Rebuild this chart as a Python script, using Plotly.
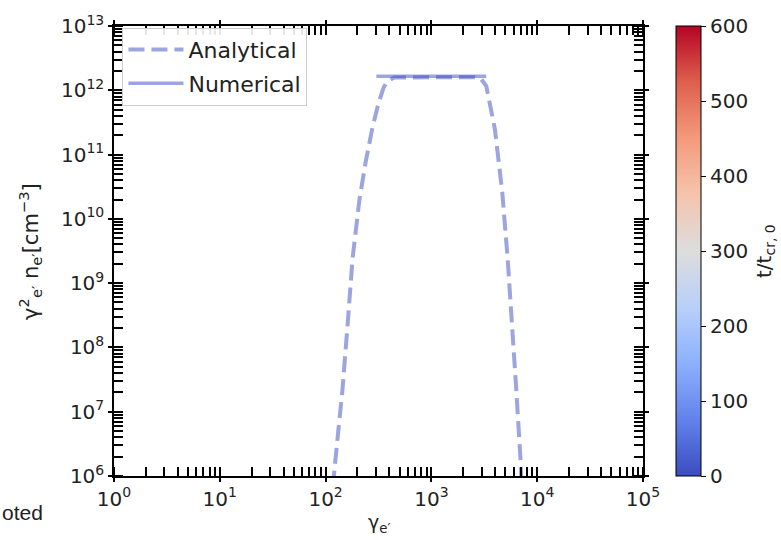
import plotly.graph_objects as go

# Analytical spectrum: Lorentz factor vs gamma^2 * n (cm^-3)
gamma_analytical = [112, 118.9, 121.6, 131.8, 144.5, 162.2, 179.9, 208.9, 239.9, 277.3,
                    316.2, 354.8, 384.6, 446.7, 1000, 2512, 2951, 3304, 3981, 4677,
                    5248, 5808, 6310, 6918, 7063, 7300]
n_analytical = [3.0e5, 1.0e6, 1.32e6, 5.0e6, 2.24e7, 2.5e8, 2.43e9, 2.0e10, 7.9e10, 2.63e11,
                6.3e11, 1.12e12, 1.38e12, 1.58e12, 1.6e12, 1.6e12, 1.5e12, 1.16e12, 2.5e11, 2.57e10,
                2.5e9, 2.29e8, 2.5e7, 2.1e6, 1.0e6, 3.0e5]

# Numerical solution (initial step)
gamma_numerical = [302, 1000, 3300]
n_numerical = [1.66e12, 1.66e12, 1.66e12]

# Decade tick labels
x_tickvals = [1, 10, 100, 1e3, 1e4, 1e5]
x_ticktext = ["10<sup>0</sup>", "10<sup>1</sup>", "10<sup>2</sup>", "10<sup>3</sup>",
              "10<sup>4</sup>", "10<sup>5</sup>"]
y_tickvals = [1e6, 1e7, 1e8, 1e9, 1e10, 1e11, 1e12, 1e13]
y_ticktext = ["10<sup>6</sup>", "10<sup>7</sup>", "10<sup>8</sup>", "10<sup>9</sup>",
              "10<sup>10</sup>", "10<sup>11</sup>", "10<sup>12</sup>", "10<sup>13</sup>"]

# Colour bar: time in units of t_cr,0
t_min, t_max = 0, 600
t_ticks = [0, 100, 200, 300, 400, 500, 600]

coolwarm = [
    [0.0, "rgb(59,76,192)"], [0.125, "rgb(98,130,234)"], [0.25, "rgb(141,176,254)"],
    [0.375, "rgb(184,208,249)"], [0.5, "rgb(221,221,221)"], [0.625, "rgb(245,196,173)"],
    [0.75, "rgb(244,154,123)"], [0.875, "rgb(222,96,77)"], [1.0, "rgb(180,4,38)"],
]

line_color = "rgba(59,76,192,0.5)"
font_main = "DejaVu Sans"
txt_color = "#222222"

fig = go.Figure()

fig.add_trace(go.Scatter(
    x=gamma_analytical, y=n_analytical, mode="lines", name="Analytical",
    legendgroup="a",
    line=dict(color=line_color, width=4, dash="16px,7px"),
))
fig.add_trace(go.Scatter(
    x=gamma_numerical, y=n_numerical, mode="lines", name="Numerical",
    legendgroup="n",
    line=dict(color=line_color, width=3.5),
))

# Invisible trace carrying the time colour bar
fig.add_trace(go.Scatter(
    x=[10], y=[1e9], mode="markers", showlegend=False, hoverinfo="skip",
    marker=dict(
        size=0.1, opacity=0, color=[t_min], cmin=t_min, cmax=t_max, colorscale=coolwarm,
        showscale=True,
        colorbar=dict(
            x=1.0624, xanchor="left", xpad=0, y=0.5, yanchor="middle", ypad=0,
            len=1.0, lenmode="fraction", thickness=25, thicknessmode="pixels",
            outlinecolor="black", outlinewidth=1,
            tickmode="array", tickvals=t_ticks, ticks="outside", ticklen=5,
            tickcolor="black", tickfont=dict(family=font_main, size=20, color=txt_color),
        ),
    ),
))

axis_common = dict(
    type="log", showgrid=False, zeroline=False,
    showline=True, linecolor="black", linewidth=1.5, mirror="allticks",
    ticks="outside", ticklen=4, tickwidth=1.5, tickcolor="black",
    tickmode="array",
    tickfont=dict(family=font_main, size=20, color=txt_color),
    minor=dict(ticks="inside", ticklen=9, tickwidth=2, tickcolor="black", dtick="D1", showgrid=False),
)

fig.update_xaxes(range=[0, 5], tickvals=x_tickvals, ticktext=x_ticktext, **axis_common)
fig.update_yaxes(range=[6, 13], tickvals=y_tickvals, ticktext=y_ticktext, **axis_common)

fig.update_layout(
    width=781, height=540,
    margin=dict(l=114, r=138, t=19, b=64),
    paper_bgcolor="white", plot_bgcolor="white",
    font=dict(family=font_main, color=txt_color),
    legend=dict(
        x=0.016, y=0.996, xanchor="left", yanchor="top",
        bgcolor="rgba(255,255,255,0.9)", bordercolor="#cccccc", borderwidth=1,
        font=dict(family=font_main, size=22, color=txt_color),
        tracegroupgap=2, itemwidth=55,
    ),
    annotations=[
        dict(text="γ<sub>e′</sub>", x=0.5, y=-0.105, xref="paper", yref="paper",
             xanchor="center", yanchor="middle",
             showarrow=False, font=dict(family=font_main, size=19, color=txt_color)),
        dict(text="γ<sup>2</sup><sub>e′</sub> n<sub>e′</sub>[cm<sup>−3</sup>]",
             x=-0.159, y=0.5, xref="paper", yref="paper", textangle=-90,
             xanchor="center", yanchor="middle",
             showarrow=False, font=dict(family=font_main, size=21, color=txt_color)),
        dict(text="t/t<sub>cr, 0</sub>", x=1.2306, y=0.5, xref="paper", yref="paper",
             xanchor="center", yanchor="middle", textangle=-90, showarrow=False,
             font=dict(family=font_main, size=20, color=txt_color)),
        dict(text="oted", x=-0.2155, y=-0.081, xref="paper", yref="paper",
             xanchor="left", yanchor="middle", showarrow=False,
             font=dict(family="Liberation Sans", size=21, color=txt_color)),
    ],
)

fig.write_html("out.html")
